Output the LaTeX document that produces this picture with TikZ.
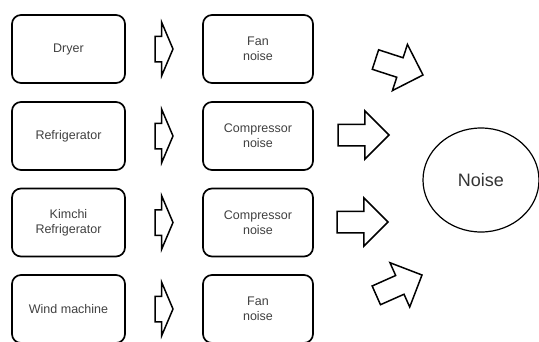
\documentclass[tikz,border=0pt]{standalone}
\usepackage{fontspec}
\setmainfont{Liberation Sans}
\usetikzlibrary{shapes.arrows,shapes.geometric}

\tikzset{
  srcbox/.style={draw, line width=1.7pt, rounded corners=9pt, minimum width=113pt,
    minimum height=68pt, align=center, text=black!75},
  noisebox/.style={draw, line width=1.7pt, rounded corners=9pt, minimum width=110pt,
    minimum height=68pt, align=center, text=black!75},
  blockarr/.style={single arrow, draw, line width=1.5pt, inner xsep=0pt, outer sep=0pt,
    anchor=tip},
  smallarr/.style={blockarr, inner ysep=12pt, minimum height=18pt,
    single arrow head extend=14pt, single arrow tip angle=134},
  bigarr/.style={blockarr, inner ysep=10pt, minimum height=51pt,
    single arrow head extend=13.5pt},
  tiltarr/.style={blockarr, inner ysep=9.5pt, minimum height=50pt,
    single arrow head extend=14pt}
}

\begin{document}
\begin{tikzpicture}[x=1pt, y=-1pt, font=\fontsize{12.5}{15}\selectfont]
\clip (0,0) rectangle (539,341);

% appliances
\node[srcbox] (dryer) at (68.5,49) {Dryer};
\node[srcbox] (fridge) at (68.5,136) {Refrigerator};
\node[srcbox] (kimchi) at (68.5,222.5) {Kimchi\\Refrigerator};
\node[srcbox] (wind) at (68.5,309) {Wind machine};

% noise sources
\node[noisebox] (fan1) at (258,49) {Fan\\noise};
\node[noisebox] (comp1) at (258,136) {Compressor\\noise};
\node[noisebox] (comp2) at (258,222.5) {Compressor\\noise};
\node[noisebox] (fan2) at (258,309) {Fan\\noise};

% small arrows (placed by their tips)
\node[smallarr] (s1) at (173,49) {};
\node[smallarr] (s2) at (173,136) {};
\node[smallarr] (s3) at (173,222.5) {};
\node[smallarr] (s4) at (173,309) {};

% big arrows
\node[tiltarr, rotate=-18] (b1) at (423,75) {};
\node[bigarr] (b2) at (389,135) {};
\node[bigarr] (b3) at (388,222) {};
\node[tiltarr, rotate=24] (b4) at (422,275) {};

\node[draw, ellipse, line width=1.2pt, minimum width=116pt, minimum height=104pt,
  text=black!80, font=\fontsize{18}{20}\selectfont] (noise) at (481,180) {Noise};

\end{tikzpicture}
\end{document}
